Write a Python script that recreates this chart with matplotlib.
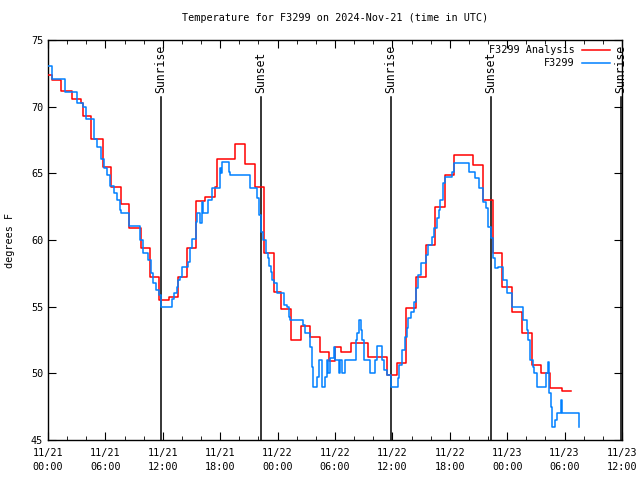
import matplotlib
matplotlib.use('Agg')
import matplotlib.pyplot as plt
import matplotlib.dates as mdates
import pandas as pd

base = pd.Timestamp('2024-11-21 00:00')

# hours after 11/21 00:00 UTC, deg F (step data)
analysis_hours = [0.0, 0.45, 1.4, 2.5, 3.5, 3.7, 4.45, 5.7, 6.55, 7.6, 8.5, 9.7, 10.7, 11.6,
                  12.6, 13.6, 14.55, 15.5, 16.4, 17.45, 17.7, 19.5, 20.6, 21.6, 22.55, 23.6,
                  24.4, 25.45, 26.45, 27.4, 28.4, 29.4, 30.0, 30.6, 31.65, 33.5, 35.4, 36.5,
                  37.4, 38.5, 39.5, 40.5, 41.45, 42.45, 44.4, 45.5, 46.5, 47.5, 48.5, 49.5,
                  50.55, 51.5, 52.5, 53.7, 54.65]
analysis_temp = [72.4, 72.0, 71.2, 70.6, 70.25, 69.3, 67.6, 65.5, 64.0, 62.7, 60.9, 59.4, 57.2, 55.5,
                 55.7, 57.2, 59.4, 62.9, 63.25, 64.0, 66.1, 67.2, 65.7, 64.0, 59.0, 56.1,
                 54.8, 52.5, 53.55, 52.7, 51.6, 50.9, 52.0, 51.6, 52.25, 51.25, 49.9, 50.8,
                 54.9, 57.25, 59.6, 62.5, 64.9, 66.4, 65.6, 63.0, 59.0, 56.5, 54.6, 53.0,
                 50.6, 50.0, 48.9, 48.7, 48.7]

obs_hours = [0.0, 0.38, 1.74, 3.07, 3.69, 3.94, 4.81, 5.16, 5.5, 5.85, 6.2, 6.45, 6.9, 7.18,
             7.52, 7.66, 8.47, 9.62, 9.93, 10.45, 10.73, 11.0, 11.25, 11.6, 11.78, 12.93,
             13.17, 13.45, 13.62, 13.8, 13.97, 14.67, 14.84, 15.02, 15.43, 15.54, 15.89, 16.06,
             16.24, 16.76, 17.11, 17.98, 18.08, 18.19, 18.92, 19.02, 21.11, 21.88, 22.09, 22.26,
             22.51, 22.79, 22.96, 23.1, 23.31, 23.45, 23.66, 23.9, 24.7, 24.94, 25.19, 25.3,
             26.69, 26.86, 27.39, 27.56, 27.73, 28.15, 28.33, 28.6, 28.95, 29.13, 29.23, 29.48,
             29.9, 30.0, 30.42, 30.52, 30.7, 31.04, 32.16, 32.26, 32.51, 32.72, 32.86, 33.07,
             33.66, 34.18, 34.36, 34.88, 35.16, 35.4, 35.85, 36.55, 36.69, 36.97, 37.32, 37.49,
             37.67, 37.94, 38.29, 38.43, 38.71, 38.95, 39.48, 39.76, 40.1, 40.38, 40.63, 40.87,
             40.97, 41.32, 41.5, 42.2, 42.44, 44.04, 44.64, 45.05, 45.51, 45.75, 46.03, 46.31,
             46.55, 46.72, 47.07, 47.52, 47.94, 48.53, 49.68, 50.03, 50.21, 50.38, 50.66, 50.8,
             51.08, 52.02, 52.23, 52.41, 52.58, 52.72, 53.0, 53.18, 53.6, 53.77, 55.52, 55.55]
obs_temp = [73.05, 72.05, 71.13, 70.3, 70.0, 69.05, 67.6, 67.0, 66.05, 65.4, 64.9, 64.05, 63.5, 63.0,
            62.25, 62.0, 61.07, 60.0, 59.0, 58.5, 57.5, 56.75, 56.25, 55.87, 55.0, 55.6,
            56.0, 56.5, 57.0, 57.25, 58.0, 58.37, 59.37, 60.07, 61.37, 62.0, 61.3, 62.87,
            62.0, 63.0, 63.87, 65.37, 65.0, 65.87, 65.12, 64.87, 63.87, 63.12, 61.87, 60.62,
            60.0, 59.05, 58.62, 58.05, 57.62, 57.0, 56.75, 56.0, 55.12, 54.95, 54.25, 54.0,
            53.62, 53.0, 52.0, 50.5, 49.0, 49.75, 51.0, 49.0, 49.75, 51.0, 50.0, 51.12,
            52.0, 51.0, 50.0, 51.0, 50.0, 51.0, 52.5, 53.0, 54.0, 53.25, 52.5, 51.0,
            50.0, 51.0, 52.05, 51.0, 50.25, 49.87, 49.0, 49.62, 50.62, 51.75, 52.75, 53.37,
            54.12, 54.62, 55.37, 56.37, 57.37, 58.25, 58.87, 59.62, 60.25, 60.87, 61.62, 62.25,
            63.0, 64.25, 64.75, 65.12, 65.75, 65.12, 64.62, 63.87, 62.87, 62.37, 61.0, 60.12,
            58.62, 57.87, 58.0, 57.0, 56.0, 55.0, 54.0, 53.25, 52.5, 51.0, 50.5, 50.0,
            49.0, 50.0, 50.87, 48.5, 47.5, 46.0, 46.5, 47.0, 48.0, 47.0, 46.0, 46.0]

sun_hours = [11.82, 22.27, 35.85, 46.3, 59.87]
sun_labels = ['Sunrise', 'Sunset', 'Sunrise', 'Sunset', 'Sunrise']

to_time = lambda h: base + pd.to_timedelta(h, unit='h')

plt.rcParams['font.family'] = ['DejaVu Sans Mono']
plt.rcParams['font.size'] = 7.3

fig = plt.figure(figsize=(6.4, 4.8), dpi=100)
ax = fig.add_axes([48/640, 40/480, 574/640, 400/480])

ax.step(to_time(analysis_hours), analysis_temp, where='post', color='#ff0000', lw=1.1, zorder=3)
ax.step(to_time(obs_hours), obs_temp, where='post', color='#0080ff', lw=1.1, zorder=4)

for h, lab in zip(sun_hours, sun_labels):
    t = to_time(h)
    ax.plot([t, t], [45, 70.72], color='black', lw=1.1, zorder=2)
    ax.text(t, 71.05, lab, rotation=90, ha='center', va='bottom', fontsize=8.3)

ax.set_xlim(base, base + pd.Timedelta(hours=60))
ax.set_ylim(45, 75)
ax.set_yticks([45, 50, 55, 60, 65, 70, 75])
ax.xaxis.set_major_locator(mdates.HourLocator(byhour=[0, 6, 12, 18]))
ax.xaxis.set_minor_locator(mdates.HourLocator(interval=2))
ax.xaxis.set_major_formatter(mdates.DateFormatter('%m/%d\n%H:%M'))
ax.tick_params(which='both', direction='in', top=True, right=True)
ax.tick_params(which='major', length=6)
ax.tick_params(which='minor', length=3)
ax.tick_params(axis='x', which='major', pad=5.5)
for lab in ax.get_xticklabels():
    lab.set_linespacing(1.5)
for s in ax.spines.values():
    s.set_linewidth(1.0)

ax.set_ylabel('degrees F')
ax.yaxis.set_label_coords(-0.0575, 0.5)
ax.set_title('Temperature for F3299 on 2024-Nov-21 (time in UTC)', fontsize=7.3, pad=14)

# gnuplot style key
ax.text(0.918, 0.975, 'F3299 Analysis', transform=ax.transAxes, ha='right', va='center')
ax.plot([0.930, 0.979], [0.975, 0.975], transform=ax.transAxes, color='#ff0000', lw=1.1)
ax.text(0.918, 0.9425, 'F3299', transform=ax.transAxes, ha='right', va='center')
ax.plot([0.930, 0.979], [0.9425, 0.9425], transform=ax.transAxes, color='#0080ff', lw=1.1)

fig.savefig('out.png', dpi=100)
